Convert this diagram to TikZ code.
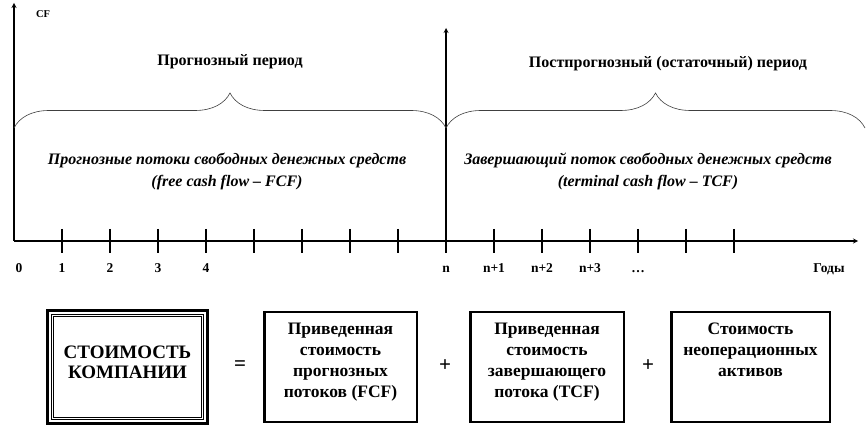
\documentclass[tikz,border=0pt]{standalone}
\usepackage{fontspec}
\setmainfont{Liberation Serif}
\usepackage{tikz}
\usetikzlibrary{arrows, decorations.pathreplacing, positioning}
\tikzset{>=stealth}
\tikzset{
  axis/.style={line width=1.2pt},
  brc/.style={decorate, decoration={brace, amplitude=35pt}, line width=0.6pt, black!75},
  period/.style={font=\fontsize{16}{19}\selectfont\bfseries},
  flow/.style={font=\fontsize{16}{22}\selectfont\bfseries\itshape, align=center},
  yr/.style={font=\fontsize{13.5}{15}\selectfont\bfseries, anchor=base},
  frame/.style={draw, line width=2.5pt, minimum width=152.5pt, minimum height=109.5pt, inner sep=0pt},
  boxtxt/.style={font=\fontsize{17.5}{21}\selectfont\bfseries, align=center, inner sep=0pt},
  op/.style={font=\fontsize{21}{24}\selectfont\bfseries},
}

\begin{document}
\begin{tikzpicture}[x=1pt, y=-1pt]
        \useasboundingbox (0,0) rectangle (867,427);
        % axes
        \coordinate (O) at (14,241);
        \coordinate (N) at (446,253);
        \draw[->, axis](O)--(858,241);
        \draw[->, axis](O)--(14,3);
        \draw[->, axis](N)--(446,28);
        \foreach \k in {0,...,14}
        {
            \draw[axis](62+48*\k,229)--(62+48*\k,253);
        }
        \node[font=\fontsize{10.5}{12}\selectfont\bfseries] (cf) at (43,14){CF};
        % periods
        \draw[brc](14,128)--(446,128);
        \draw[brc](446,128)--(865,128);
        \node[period] (p1) at (230,62){Прогнозный период};
        \node[period] (p2) at (668,64){Постпрогнозный (остаточный) период};
        \node[flow] (f1) at (227,171){Прогнозные потоки свободных денежных средств\\(free cash flow – FCF)};
        \node[flow] (f2) at (648,171){Завершающий поток свободных денежных средств\\(terminal cash flow – TCF)};
        \foreach \x/\t [count=\i] in {19/0,62/1,110/2,158/3,206/4,446/n,494/n+1,542/n+2,590/n+3,638/…,829/Годы}
        {
            \node[yr] (y\i) at (\x,273){\t};
        }
        % value of the company
        \node[draw, line width=3pt, minimum width=160pt, minimum height=113pt] (co) at (127.5,367){};
        \node[draw, line width=1pt, minimum width=152pt, minimum height=105pt] (co1) at (co){};
        \node[draw, line width=1pt, minimum width=148pt, minimum height=101pt] (co2) at (co){};
        \node[boxtxt, font=\fontsize{19}{20}\selectfont\bfseries] (cot) at (127.5,362){СТОИМОСТЬ\\КОМПАНИИ};
        \node[frame] (pv1) at (340.5,367){};
        \node[frame, minimum width=153.5pt] (pv2) at (547,367){};
        \node[frame, minimum width=158.5pt] (na) at (750.5,367){};
        \node[boxtxt, below=12pt of pv1.north] (pv1t){Приведенная\\стоимость\\прогнозных\\потоков (FCF)};
        \node[boxtxt, below=12pt of pv2.north] (pv2t){Приведенная\\стоимость\\завершающего\\потока (TCF)};
        \node[boxtxt, below=12pt of na.north] (nat){Стоимость\\неоперационных\\активов};
        \node[op] (eq) at (240,366){=};
        \node[op] (pl1) at (445,366){+};
        \node[op] (pl2) at (648,366){+};
    \end{tikzpicture}
\end{document}
